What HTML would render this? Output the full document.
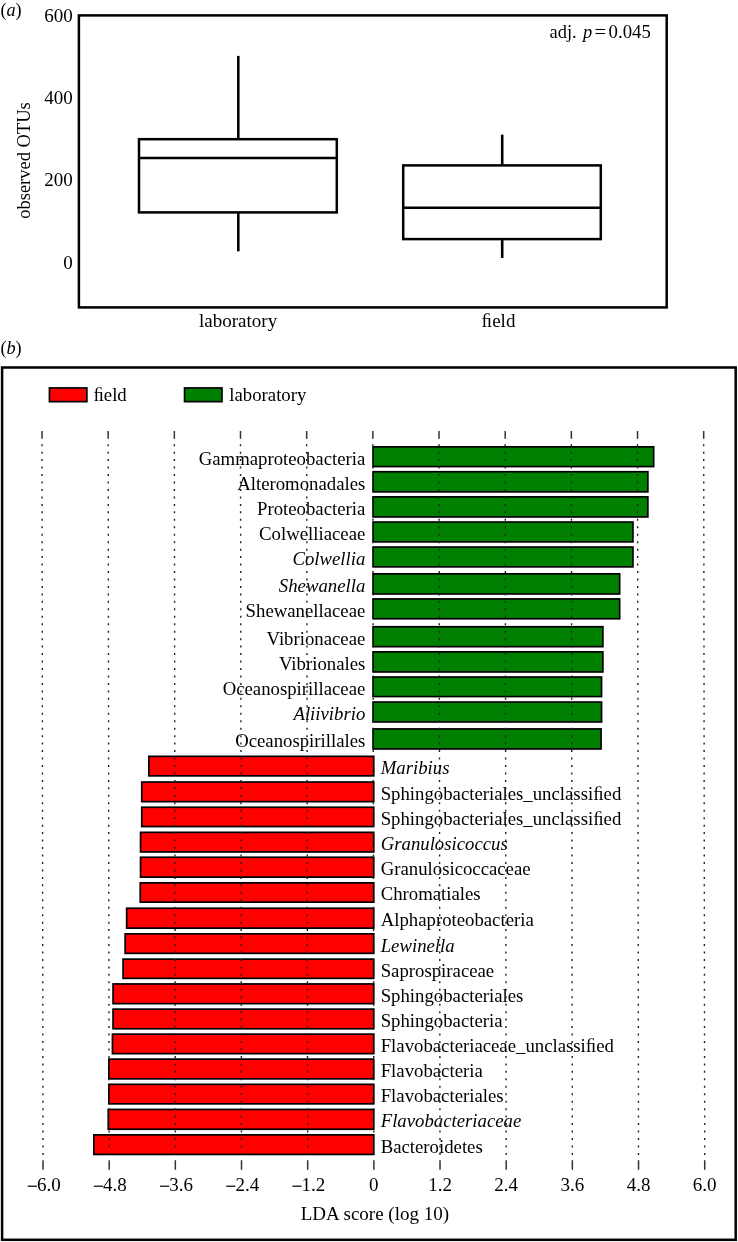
<!DOCTYPE html>
<html><head><meta charset="utf-8"><style>
html,body{margin:0;padding:0;background:#fff;overflow:hidden;width:738px;height:1242px;}
svg{display:block;will-change:transform;}
text{font-family:"Liberation Serif",serif;fill:#000;}
.i{font-style:italic;}
</style></head><body>
<svg width="738" height="1242" viewBox="0 0 738 1242">
<text x="0.4" y="15.6" font-size="18.2">(<tspan class="i">a</tspan>)</text>
<rect x="78.9" y="15.4" width="587.8" height="292" fill="none" stroke="#000" stroke-width="2.5"/>
<text x="72.7" y="21.5" font-size="19" text-anchor="end">600</text>
<text x="72.7" y="103.9" font-size="19" text-anchor="end">400</text>
<text x="72.7" y="186.3" font-size="19" text-anchor="end">200</text>
<text x="72.7" y="268.7" font-size="19" text-anchor="end">0</text>
<text transform="translate(29.6,160.5) rotate(-90)" font-size="18.5" text-anchor="middle">observed OTUs</text>
<rect x="139.0" y="139.2" width="197.80" height="73.20" fill="none" stroke="#000" stroke-width="2.5"/>
<line x1="139.0" x2="336.8" y1="158.1" y2="158.1" stroke="#000" stroke-width="2.5"/>
<line x1="238.3" x2="238.3" y1="55.9" y2="139.2" stroke="#000" stroke-width="2.6"/>
<line x1="238.3" x2="238.3" y1="212.4" y2="251.3" stroke="#000" stroke-width="2.6"/>
<rect x="403.2" y="165.4" width="197.60" height="73.70" fill="none" stroke="#000" stroke-width="2.5"/>
<line x1="403.2" x2="600.8" y1="207.7" y2="207.7" stroke="#000" stroke-width="2.5"/>
<line x1="502.2" x2="502.2" y1="134.6" y2="165.4" stroke="#000" stroke-width="2.6"/>
<line x1="502.2" x2="502.2" y1="239.1" y2="258.0" stroke="#000" stroke-width="2.6"/>
<text x="238.1" y="327.4" font-size="19" text-anchor="middle">laboratory</text>
<text x="498.5" y="327.2" font-size="19" text-anchor="middle">&#xFB01;eld</text>
<text x="549.6" y="37.8" font-size="18.4">adj.</text>
<text x="583" y="37.8" font-size="18.4" class="i">p</text>
<text transform="translate(594.6,37.8) scale(1.12,1)" font-size="18.4">=</text>
<text x="608.6" y="37.8" font-size="18.8">0.045</text>
<text x="0.4" y="353.9" font-size="18.2">(<tspan class="i">b</tspan>)</text>
<rect x="2.1" y="367.5" width="733.6" height="872.3" fill="none" stroke="#000" stroke-width="2.5"/>
<rect x="49.45" y="387.95" width="37.4" height="13.7" fill="#ff0000" stroke="#000" stroke-width="1.7"/>
<text x="93.4" y="401" font-size="18.75">&#xFB01;eld</text>
<rect x="184.55" y="387.95" width="37.4" height="13.7" fill="#008000" stroke="#000" stroke-width="1.7"/>
<text x="229.3" y="401" font-size="18.75">laboratory</text>
<rect x="373.05" y="446.85" width="280.60" height="19.70" fill="#008000" stroke="#000" stroke-width="1.7"/>
<rect x="373.05" y="471.75" width="274.80" height="20.10" fill="#008000" stroke="#000" stroke-width="1.7"/>
<rect x="373.05" y="496.85" width="274.80" height="20.10" fill="#008000" stroke="#000" stroke-width="1.7"/>
<rect x="373.05" y="522.05" width="259.90" height="19.80" fill="#008000" stroke="#000" stroke-width="1.7"/>
<rect x="373.05" y="547.05" width="259.90" height="19.80" fill="#008000" stroke="#000" stroke-width="1.7"/>
<rect x="373.05" y="573.85" width="246.60" height="20.10" fill="#008000" stroke="#000" stroke-width="1.7"/>
<rect x="373.05" y="598.95" width="246.60" height="19.80" fill="#008000" stroke="#000" stroke-width="1.7"/>
<rect x="373.05" y="626.75" width="229.80" height="19.90" fill="#008000" stroke="#000" stroke-width="1.7"/>
<rect x="373.05" y="651.85" width="229.80" height="20.10" fill="#008000" stroke="#000" stroke-width="1.7"/>
<rect x="373.05" y="677.05" width="228.50" height="19.50" fill="#008000" stroke="#000" stroke-width="1.7"/>
<rect x="373.05" y="702.05" width="228.50" height="19.90" fill="#008000" stroke="#000" stroke-width="1.7"/>
<rect x="373.05" y="728.95" width="228.00" height="20.00" fill="#008000" stroke="#000" stroke-width="1.7"/>
<rect x="148.85" y="756.35" width="224.90" height="19.50" fill="#ff0000" stroke="#000" stroke-width="1.7"/>
<rect x="141.75" y="782.05" width="232.00" height="19.60" fill="#ff0000" stroke="#000" stroke-width="1.7"/>
<rect x="141.75" y="807.25" width="232.00" height="19.30" fill="#ff0000" stroke="#000" stroke-width="1.7"/>
<rect x="140.55" y="832.35" width="233.20" height="19.60" fill="#ff0000" stroke="#000" stroke-width="1.7"/>
<rect x="140.55" y="857.25" width="233.20" height="19.90" fill="#ff0000" stroke="#000" stroke-width="1.7"/>
<rect x="140.25" y="882.85" width="233.50" height="19.30" fill="#ff0000" stroke="#000" stroke-width="1.7"/>
<rect x="126.65" y="908.25" width="247.10" height="19.90" fill="#ff0000" stroke="#000" stroke-width="1.7"/>
<rect x="125.15" y="933.85" width="248.60" height="19.50" fill="#ff0000" stroke="#000" stroke-width="1.7"/>
<rect x="123.05" y="959.15" width="250.70" height="19.20" fill="#ff0000" stroke="#000" stroke-width="1.7"/>
<rect x="113.05" y="983.95" width="260.70" height="19.70" fill="#ff0000" stroke="#000" stroke-width="1.7"/>
<rect x="113.05" y="1009.15" width="260.70" height="19.60" fill="#ff0000" stroke="#000" stroke-width="1.7"/>
<rect x="112.45" y="1034.15" width="261.30" height="19.50" fill="#ff0000" stroke="#000" stroke-width="1.7"/>
<rect x="108.85" y="1059.15" width="264.90" height="19.70" fill="#ff0000" stroke="#000" stroke-width="1.7"/>
<rect x="108.85" y="1084.35" width="264.90" height="19.50" fill="#ff0000" stroke="#000" stroke-width="1.7"/>
<rect x="108.25" y="1109.45" width="265.50" height="19.80" fill="#ff0000" stroke="#000" stroke-width="1.7"/>
<rect x="93.85" y="1134.85" width="279.90" height="19.60" fill="#ff0000" stroke="#000" stroke-width="1.7"/>
<text x="365.3" y="464.60" font-size="18.75" text-anchor="end">Gammaproteobacteria</text>
<text x="365.3" y="489.70" font-size="18.75" text-anchor="end">Alteromonadales</text>
<text x="365.3" y="514.80" font-size="18.75" text-anchor="end">Proteobacteria</text>
<text x="365.3" y="539.85" font-size="18.75" text-anchor="end">Colwelliaceae</text>
<text x="365.3" y="564.85" font-size="18.75" text-anchor="end" class="i">Colwellia</text>
<text x="365.3" y="591.80" font-size="18.75" text-anchor="end" class="i">Shewanella</text>
<text x="365.3" y="616.75" font-size="18.75" text-anchor="end">Shewanellaceae</text>
<text x="365.3" y="644.60" font-size="18.75" text-anchor="end">Vibrionaceae</text>
<text x="365.3" y="669.80" font-size="18.75" text-anchor="end">Vibrionales</text>
<text x="365.3" y="694.70" font-size="18.75" text-anchor="end">Oceanospirillaceae</text>
<text x="365.3" y="719.90" font-size="18.75" text-anchor="end" class="i">Aliivibrio</text>
<text x="365.3" y="746.85" font-size="18.75" text-anchor="end">Oceanospirillales</text>
<text x="380.7" y="774.00" font-size="18.75" class="i">Maribius</text>
<text x="380.7" y="799.75" font-size="18.75">Sphingobacteriales_unclassi&#xFB01;ed</text>
<text x="380.7" y="824.80" font-size="18.75">Sphingobacteriales_unclassi&#xFB01;ed</text>
<text x="380.7" y="850.05" font-size="18.75" class="i">Granulosicoccus</text>
<text x="380.7" y="875.10" font-size="18.75">Granulosicoccaceae</text>
<text x="380.7" y="900.40" font-size="18.75">Chromatiales</text>
<text x="380.7" y="926.10" font-size="18.75">Alphaproteobacteria</text>
<text x="380.7" y="951.50" font-size="18.75" class="i">Lewinella</text>
<text x="380.7" y="976.65" font-size="18.75">Saprospiraceae</text>
<text x="380.7" y="1001.70" font-size="18.75">Sphingobacteriales</text>
<text x="380.7" y="1026.85" font-size="18.75">Sphingobacteria</text>
<text x="380.7" y="1051.80" font-size="18.75">Flavobacteriaceae_unclassi&#xFB01;ed</text>
<text x="380.7" y="1076.90" font-size="18.75">Flavobacteria</text>
<text x="380.7" y="1102.00" font-size="18.75">Flavobacteriales</text>
<text x="380.7" y="1127.25" font-size="18.75" class="i">Flavobacteriaceae</text>
<text x="380.7" y="1152.55" font-size="18.75">Bacteroidetes</text>
<line x1="42.01" x2="42.01" y1="431" y2="438.8" stroke="#333" stroke-width="1.5"/>
<line x1="42.01" x2="43.01" y1="444.2" y2="1160" stroke="#222" stroke-width="1.4" stroke-dasharray="2 5.46"/>
<line x1="43.01" x2="43.01" y1="1160.2" y2="1169.8" stroke="#333" stroke-width="1.5"/>
<rect x="27.71" y="1185.6" width="9.2" height="1.2" fill="#000"/>
<text x="36.91" y="1190.7" font-size="19">6.0</text>
<line x1="108.18" x2="108.18" y1="431" y2="438.8" stroke="#333" stroke-width="1.5"/>
<line x1="108.18" x2="109.18" y1="444.2" y2="1160" stroke="#222" stroke-width="1.4" stroke-dasharray="2 5.46"/>
<line x1="109.18" x2="109.18" y1="1160.2" y2="1169.8" stroke="#333" stroke-width="1.5"/>
<rect x="93.88" y="1185.6" width="9.2" height="1.2" fill="#000"/>
<text x="103.08" y="1190.7" font-size="19">4.8</text>
<line x1="174.35" x2="174.35" y1="431" y2="438.8" stroke="#333" stroke-width="1.5"/>
<line x1="174.35" x2="175.35" y1="444.2" y2="1160" stroke="#222" stroke-width="1.4" stroke-dasharray="2 5.46"/>
<line x1="175.35" x2="175.35" y1="1160.2" y2="1169.8" stroke="#333" stroke-width="1.5"/>
<rect x="160.05" y="1185.6" width="9.2" height="1.2" fill="#000"/>
<text x="169.25" y="1190.7" font-size="19">3.6</text>
<line x1="240.51" x2="240.51" y1="431" y2="438.8" stroke="#333" stroke-width="1.5"/>
<line x1="240.51" x2="241.51" y1="444.2" y2="1160" stroke="#222" stroke-width="1.4" stroke-dasharray="2 5.46"/>
<line x1="241.51" x2="241.51" y1="1160.2" y2="1169.8" stroke="#333" stroke-width="1.5"/>
<rect x="226.21" y="1185.6" width="9.2" height="1.2" fill="#000"/>
<text x="235.41" y="1190.7" font-size="19">2.4</text>
<line x1="306.68" x2="306.68" y1="431" y2="438.8" stroke="#333" stroke-width="1.5"/>
<line x1="306.68" x2="307.68" y1="444.2" y2="1160" stroke="#222" stroke-width="1.4" stroke-dasharray="2 5.46"/>
<line x1="307.68" x2="307.68" y1="1160.2" y2="1169.8" stroke="#333" stroke-width="1.5"/>
<rect x="292.38" y="1185.6" width="9.2" height="1.2" fill="#000"/>
<text x="301.58" y="1190.7" font-size="19">1.2</text>
<line x1="372.85" x2="372.85" y1="431" y2="438.8" stroke="#333" stroke-width="1.5"/>
<line x1="372.85" x2="373.85" y1="444.2" y2="1160" stroke="#222" stroke-width="1.4" stroke-dasharray="2 5.46"/>
<line x1="373.85" x2="373.85" y1="1160.2" y2="1169.8" stroke="#333" stroke-width="1.5"/>
<text x="373.85" y="1190.7" font-size="19" text-anchor="middle">0</text>
<line x1="439.02" x2="439.02" y1="431" y2="438.8" stroke="#333" stroke-width="1.5"/>
<line x1="439.02" x2="440.02" y1="444.2" y2="1160" stroke="#222" stroke-width="1.4" stroke-dasharray="2 5.46"/>
<line x1="440.02" x2="440.02" y1="1160.2" y2="1169.8" stroke="#333" stroke-width="1.5"/>
<text x="440.02" y="1190.7" font-size="19" text-anchor="middle">1.2</text>
<line x1="505.19" x2="505.19" y1="431" y2="438.8" stroke="#333" stroke-width="1.5"/>
<line x1="505.19" x2="506.19" y1="444.2" y2="1160" stroke="#222" stroke-width="1.4" stroke-dasharray="2 5.46"/>
<line x1="506.19" x2="506.19" y1="1160.2" y2="1169.8" stroke="#333" stroke-width="1.5"/>
<text x="506.19" y="1190.7" font-size="19" text-anchor="middle">2.4</text>
<line x1="571.35" x2="571.35" y1="431" y2="438.8" stroke="#333" stroke-width="1.5"/>
<line x1="571.35" x2="572.35" y1="444.2" y2="1160" stroke="#222" stroke-width="1.4" stroke-dasharray="2 5.46"/>
<line x1="572.35" x2="572.35" y1="1160.2" y2="1169.8" stroke="#333" stroke-width="1.5"/>
<text x="572.35" y="1190.7" font-size="19" text-anchor="middle">3.6</text>
<line x1="637.52" x2="637.52" y1="431" y2="438.8" stroke="#333" stroke-width="1.5"/>
<line x1="637.52" x2="638.52" y1="444.2" y2="1160" stroke="#222" stroke-width="1.4" stroke-dasharray="2 5.46"/>
<line x1="638.52" x2="638.52" y1="1160.2" y2="1169.8" stroke="#333" stroke-width="1.5"/>
<text x="638.52" y="1190.7" font-size="19" text-anchor="middle">4.8</text>
<line x1="703.69" x2="703.69" y1="431" y2="438.8" stroke="#333" stroke-width="1.5"/>
<line x1="703.69" x2="704.69" y1="444.2" y2="1160" stroke="#222" stroke-width="1.4" stroke-dasharray="2 5.46"/>
<line x1="704.69" x2="704.69" y1="1160.2" y2="1169.8" stroke="#333" stroke-width="1.5"/>
<text x="704.69" y="1190.7" font-size="19" text-anchor="middle">6.0</text>
<text x="374.9" y="1219.9" font-size="19" text-anchor="middle">LDA score (log 10)</text>
</svg>
</body></html>
